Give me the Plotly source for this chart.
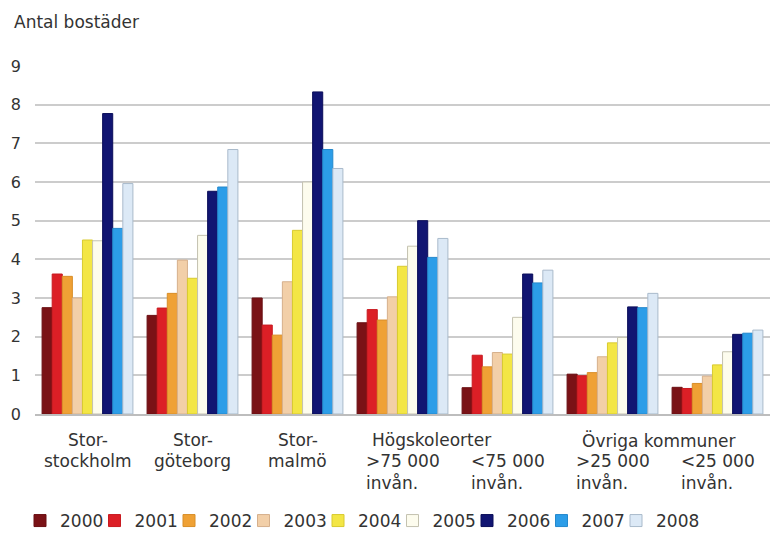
import plotly.graph_objects as go

# Bostadsbyggande per regiontyp, antal bostäder per 1000 invånare
regions = ["Storsthlm", "Storgbg", "Stormalmö", "Hsk>75", "Hsk<75", "Övr>25", "Övr<25"]
years = ["2000", "2001", "2002", "2003", "2004", "2005", "2006", "2007", "2008"]

v2000 = [2.75, 2.55, 3.0, 2.36, 0.68, 1.03, 0.69]
v2001 = [3.62, 2.74, 2.3, 2.70, 1.52, 0.99, 0.66]
v2002 = [3.56, 3.12, 2.04, 2.43, 1.22, 1.07, 0.79]
v2003 = [3.0, 3.98, 3.42, 3.03, 1.59, 1.48, 0.98]
v2004 = [4.5, 3.51, 4.75, 3.82, 1.55, 1.84, 1.27]
v2005 = [4.48, 4.62, 6.0, 4.34, 2.5, 1.98, 1.61]
v2006 = [7.77, 5.76, 8.33, 5.0, 3.62, 2.77, 2.06]
v2007 = [4.8, 5.87, 6.84, 4.05, 3.39, 2.75, 2.09]
v2008 = [5.96, 6.84, 6.35, 4.54, 3.72, 3.12, 2.17]
series = [v2000, v2001, v2002, v2003, v2004, v2005, v2006, v2007, v2008]

fills = ["#7A1216", "#DC1F26", "#EFA135", "#F2CFA8", "#F3E645",
         "#FDFCEE", "#111572", "#2C9DE8", "#DCE9F6"]
edges = ["#6A0E12", "#C81A20", "#D88E28", "#D6B08C", "#D8CA30",
         "#C4C2B0", "#0B0E5A", "#2488CC", "#A9BACB"]

# Kategorietiketter under x-axeln
line1 = ["Stor-", "Stor-", "Stor-", "", "", "", ""]
lower = ["stockholm", "göteborg", "malmö",
         ">75 000<br>invån.", "<75 000<br>invån.",
         ">25 000<br>invån.", "<25 000<br>invån."]
headers = [("Högskoleorter", 3), ("Övriga kommuner", 5)]

font_family = "DejaVu Sans, Verdana, sans-serif"
txt = "#333333"
fs = 17

# sidans mått i pixlar (för placering av förklaringarna)
page_w, page_h = 775, 536
legend_start, legend_step, legend_mid = 20, 74.5, 521

fig = go.Figure()
for i, (yr, vals, fc, ec) in enumerate(zip(years, series, fills, edges)):
    fig.add_trace(go.Bar(
        x=regions, y=vals, name=yr,
        legend="legend" if i == 0 else f"legend{i + 1}",
        marker=dict(color=fc, line=dict(color=ec, width=1)),
    ))

lab_font = dict(size=fs, color=txt, family=font_family)
annotations = []
for i, r in enumerate(regions):
    if line1[i]:
        annotations.append(dict(
            x=r, xref="x", y=0, yref="paper", yanchor="middle",
            yshift=-26, text=line1[i], showarrow=False, font=lab_font,
        ))
    annotations.append(dict(
        x=r, xref="x", y=0, yref="paper", yanchor="top", yshift=-35,
        text=lower[i], align="left" if "<br>" in lower[i] else "center",
        showarrow=False, font=lab_font,
    ))
for text, idx in headers:
    annotations.append(dict(
        x=regions[idx], xref="x", y=0, yref="paper", yanchor="middle",
        xanchor="left", xshift=-33, yshift=-26, text=text, showarrow=False,
        font=lab_font,
    ))
annotations.append(dict(
    x=-0.031, xref="paper", y=1.126, yref="paper", xanchor="left",
    yanchor="middle", text="Antal bostäder", showarrow=False, font=lab_font,
))

legends = {}
for i in range(len(years)):
    key = "legend" if i == 0 else f"legend{i + 1}"
    legends[key] = dict(
        orientation="h", xanchor="left", yanchor="middle",
        xref="container", yref="container",
        x=(legend_start + i * legend_step) / page_w,
        y=(page_h - legend_mid) / page_h,
        itemwidth=30, font=lab_font, bgcolor="rgba(0,0,0,0)",
    )

fig.update_layout(
    width=page_w, height=page_h,
    margin=dict(l=35, r=5, t=66, b=122),
    paper_bgcolor="white", plot_bgcolor="white",
    barmode="group", bargap=0.135, bargroupgap=0,
    font=dict(family=font_family, size=fs, color=txt),
    showlegend=True,
    annotations=annotations,
    **legends,
)
fig.update_xaxes(showticklabels=False, showline=True, linecolor="#BDBDBD",
                 linewidth=1.5, ticks="")
fig.update_yaxes(range=[0, 9], dtick=1, showgrid=True, gridcolor="#CCCCCC",
                 gridwidth=1.5, zeroline=False, ticks="", ticklabelstandoff=13,
                 tickfont=dict(size=16, color=txt, family=font_family))

fig.write_html("out.html")
